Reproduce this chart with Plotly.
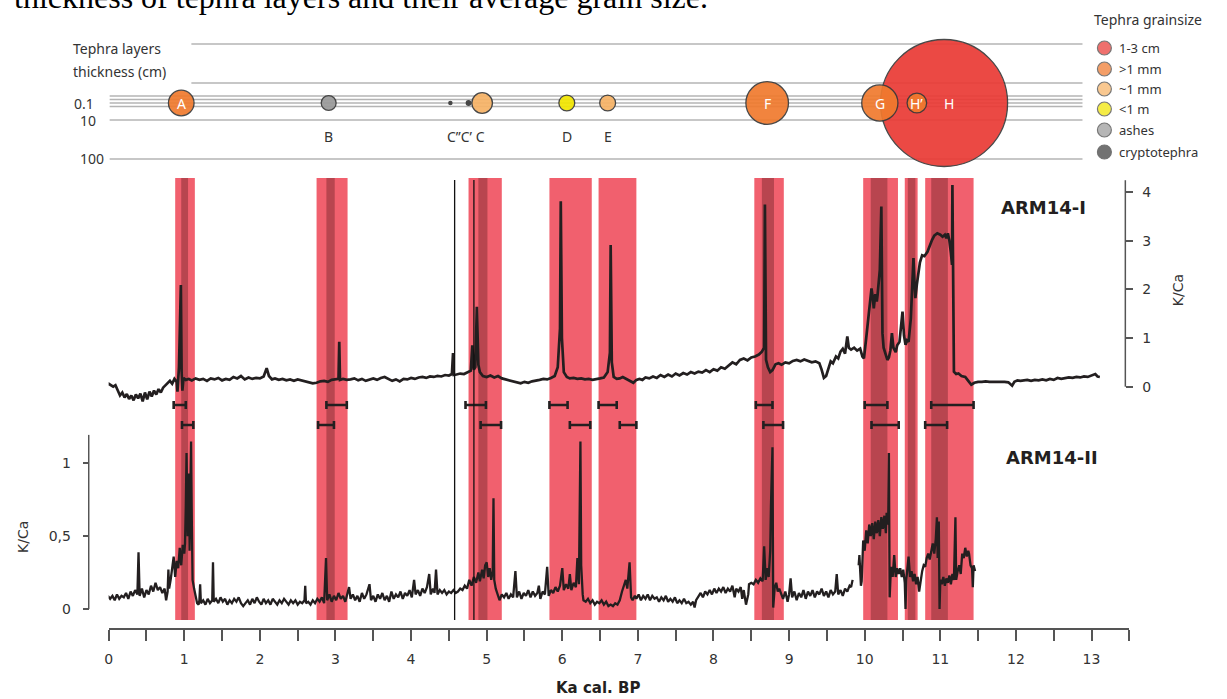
import plotly.graph_objects as go
import numpy as np

W, H = 1227, 699
def px(x): return x / W
def py(y): return 1 - y / H

# ------------------------------------------------------------------ data
# Tephra layers (bubble row)
tephra_names = ["A", "B", "C’’", "C’", "C", "D", "E", "F", "H", "G", "H’"]
tephra_age = [0.96, 2.91, 4.52, 4.76, 4.94, 6.06, 6.60, 8.71, 11.05, 10.20, 10.69]
tephra_thickness_cm = [0.65, 0.22, 0.01, 0.02, 0.42, 0.25, 0.25, 1.8, 16.0, 1.3, 0.38]
tephra_grain = [">1 mm", "ashes", "cryptotephra", "cryptotephra", "~1 mm", "<1 m", "~1 mm",
                ">1 mm", "1-3 cm", ">1 mm", ">1 mm"]
label_inside = ["A", "F", "G", "H’", "H"]
label_below = ["B", "C’’C’ C", "D", "E"]
label_below_age = [2.91, 4.73, 6.06, 6.61]
label_inside_age = [0.96, 8.71, 10.20, 10.69, 11.12]

grain_classes = ["1-3 cm", ">1 mm", "~1 mm", "<1 m", "ashes", "cryptotephra"]
grain_colors = ["#ea3a35", "#f07a2e", "#f7b366", "#f2e600", "#9a9a9a", "#3c3c3c"]

thickness_levels = ["0.1", "10", "100"]

# Tephra bands (ka cal BP)
band_start = [0.88, 2.75, 4.76, 5.83, 6.48, 8.54, 9.98, 10.53, 10.80]
band_end = [1.14, 3.16, 5.20, 6.39, 6.98, 8.93, 10.44, 10.70, 11.44]
core_start = [0.96, 2.88, 4.89, 8.64, 10.08, 10.57, 10.88]
core_end = [1.05, 2.99, 5.01, 8.80, 10.30, 10.67, 11.10]
marker_line_age = [4.576, 4.831]

# Age uncertainty ranges
err_I_lo = [0.86, 2.88, 4.72, 5.83, 6.48, 8.56, 10.00, 10.88]
err_I_hi = [1.02, 3.15, 4.99, 6.07, 6.72, 8.78, 10.30, 11.44]
err_II_lo = [0.97, 2.77, 4.92, 6.10, 6.76, 8.66, 10.09, 10.80]
err_II_hi = [1.12, 2.98, 5.19, 6.37, 6.98, 8.92, 10.45, 11.09]

# ARM14-I K/Ca
arm1 = [(-0.06, 0.05), (-0.03, 0.02), (0.00, 0.06), (0.03, 0.03), (0.06, 0.00), (0.09, 0.03),
        (0.12, -0.08), (0.15, -0.18), (0.18, -0.12), (0.21, -0.22), (0.24, -0.15), (0.27, -0.25),
        (0.30, -0.18), (0.33, -0.28), (0.36, -0.16), (0.39, -0.24), (0.42, -0.14), (0.45, -0.30),
        (0.48, -0.12), (0.51, -0.26), (0.54, -0.10), (0.57, -0.20), (0.60, -0.08), (0.63, -0.16),
        (0.66, -0.05), (0.69, -0.12), (0.72, -0.02), (0.75, 0.02), (0.78, 0.08), (0.81, 0.12),
        (0.84, 0.06), (0.87, 0.16), (0.90, 0.10), (0.91, -0.10), (0.93, 0.40), (0.955, 2.09),
        (0.965, 0.30), (0.975, -0.08), (0.99, 0.18), (1.02, 0.14), (1.06, 0.16), (1.10, 0.13),
        (1.15, 0.17), (1.20, 0.14), (1.25, 0.16), (1.30, 0.12), (1.35, 0.17), (1.40, 0.15),
        (1.45, 0.18), (1.50, 0.13), (1.55, 0.16), (1.60, 0.14), (1.65, 0.20), (1.70, 0.17),
        (1.75, 0.22), (1.80, 0.15), (1.85, 0.19), (1.90, 0.16), (1.95, 0.18), (2.00, 0.17),
        (2.05, 0.21), (2.09, 0.38), (2.12, 0.22), (2.16, 0.15), (2.20, 0.17), (2.25, 0.14),
        (2.30, 0.16), (2.35, 0.13), (2.40, 0.15), (2.45, 0.12), (2.50, 0.15), (2.55, 0.13),
        (2.60, 0.11), (2.65, 0.09), (2.70, 0.07), (2.75, 0.08), (2.80, 0.11), (2.85, 0.12),
        (2.90, 0.10), (2.95, 0.14), (3.00, 0.15), (3.04, 0.16), (3.05, 0.92), (3.06, 0.14),
        (3.10, 0.16), (3.15, 0.14), (3.20, 0.15), (3.25, 0.17), (3.30, 0.13), (3.35, 0.16),
        (3.40, 0.12), (3.45, 0.15), (3.50, 0.17), (3.55, 0.14), (3.60, 0.18), (3.65, 0.20),
        (3.70, 0.16), (3.75, 0.12), (3.80, 0.15), (3.85, 0.11), (3.90, 0.16), (3.95, 0.15),
        (4.00, 0.18), (4.05, 0.16), (4.10, 0.19), (4.15, 0.20), (4.20, 0.18), (4.25, 0.21),
        (4.30, 0.20), (4.35, 0.22), (4.40, 0.21), (4.45, 0.24), (4.50, 0.23), (4.54, 0.26),
        (4.555, 0.69), (4.565, 0.24), (4.60, 0.25), (4.65, 0.27), (4.70, 0.26), (4.75, 0.30),
        (4.79, 0.33), (4.81, 0.85), (4.83, 0.35), (4.85, 0.40), (4.87, 1.64), (4.89, 0.45),
        (4.91, 0.30), (4.95, 0.22), (5.00, 0.20), (5.05, 0.23), (5.10, 0.19), (5.15, 0.22),
        (5.20, 0.17), (5.25, 0.15), (5.30, 0.13), (5.35, 0.12), (5.40, 0.09), (5.45, 0.07),
        (5.50, 0.10), (5.55, 0.08), (5.60, 0.11), (5.65, 0.12), (5.70, 0.14), (5.75, 0.16),
        (5.80, 0.15), (5.85, 0.18), (5.90, 0.22), (5.94, 0.40), (5.97, 1.20), (5.98, 3.81),
        (5.995, 1.00), (6.02, 0.30), (6.06, 0.20), (6.10, 0.17), (6.15, 0.18), (6.20, 0.16),
        (6.25, 0.17), (6.30, 0.15), (6.35, 0.16), (6.40, 0.14), (6.45, 0.15), (6.50, 0.17),
        (6.55, 0.19), (6.60, 0.30), (6.63, 0.70), (6.64, 2.91), (6.655, 0.50), (6.68, 0.20),
        (6.72, 0.16), (6.76, 0.17), (6.80, 0.20), (6.85, 0.16), (6.90, 0.12), (6.94, 0.08),
        (6.98, 0.14), (7.02, 0.16), (7.06, 0.14), (7.10, 0.19), (7.15, 0.17), (7.20, 0.21),
        (7.25, 0.18), (7.30, 0.24), (7.35, 0.20), (7.40, 0.25), (7.45, 0.21), (7.50, 0.27),
        (7.55, 0.23), (7.60, 0.28), (7.65, 0.25), (7.70, 0.30), (7.75, 0.27), (7.80, 0.31),
        (7.85, 0.29), (7.90, 0.34), (7.95, 0.30), (8.00, 0.36), (8.05, 0.33), (8.10, 0.40),
        (8.15, 0.37), (8.20, 0.44), (8.25, 0.50), (8.30, 0.46), (8.35, 0.55), (8.40, 0.58),
        (8.45, 0.54), (8.50, 0.60), (8.55, 0.62), (8.60, 0.66), (8.64, 0.72), (8.67, 0.80),
        (8.68, 3.74), (8.695, 0.55), (8.72, 0.40), (8.75, 0.30), (8.78, 0.34), (8.82, 0.46),
        (8.86, 0.48), (8.90, 0.45), (8.95, 0.50), (9.00, 0.48), (9.05, 0.53), (9.10, 0.55),
        (9.15, 0.52), (9.20, 0.56), (9.25, 0.53), (9.30, 0.50), (9.35, 0.52), (9.40, 0.48),
        (9.43, 0.35), (9.46, 0.18), (9.49, 0.22), (9.52, 0.40), (9.55, 0.52), (9.58, 0.48),
        (9.62, 0.62), (9.65, 0.58), (9.68, 0.72), (9.71, 0.78), (9.74, 0.68), (9.77, 1.03),
        (9.79, 0.80), (9.82, 0.76), (9.86, 0.80), (9.90, 0.74), (9.94, 0.78), (9.97, 0.62),
        (9.99, 0.58), (10.02, 1.00), (10.04, 1.27), (10.07, 1.70), (10.09, 2.02), (10.11, 1.78),
        (10.12, 1.61), (10.14, 1.90), (10.16, 1.75), (10.17, 1.88), (10.20, 2.40), (10.22, 3.70),
        (10.235, 1.10), (10.25, 0.80), (10.28, 0.62), (10.30, 0.55), (10.32, 0.60), (10.34, 0.75),
        (10.36, 1.10), (10.38, 0.80), (10.41, 0.71), (10.43, 0.85), (10.46, 0.92), (10.48, 1.30),
        (10.50, 1.54), (10.52, 1.05), (10.54, 0.86), (10.56, 0.95), (10.58, 0.92), (10.61, 1.40),
        (10.63, 2.00), (10.645, 2.64), (10.66, 2.10), (10.67, 1.82), (10.69, 2.10), (10.71, 2.29),
        (10.73, 2.55), (10.76, 2.70), (10.79, 2.68), (10.83, 2.77), (10.86, 2.90), (10.89, 3.01),
        (10.92, 3.10), (10.96, 3.15), (11.00, 3.12), (11.03, 3.08), (11.06, 3.12), (11.08, 3.05),
        (11.10, 3.15), (11.12, 3.00), (11.14, 2.75), (11.155, 2.50), (11.16, 4.14), (11.17, 1.80),
        (11.18, 0.31), (11.21, 0.26), (11.24, 0.27), (11.28, 0.22), (11.33, 0.20), (11.37, 0.12),
        (11.41, 0.04), (11.45, 0.08), (11.50, 0.10), (11.55, 0.10), (11.60, 0.11), (11.65, 0.10),
        (11.70, 0.10), (11.75, 0.11), (11.80, 0.10), (11.85, 0.10), (11.90, 0.09), (11.95, 0.02),
        (11.98, 0.10), (12.02, 0.13), (12.06, 0.12), (12.10, 0.13), (12.15, 0.14), (12.20, 0.12),
        (12.25, 0.14), (12.30, 0.13), (12.35, 0.15), (12.40, 0.13), (12.45, 0.16), (12.50, 0.14),
        (12.55, 0.18), (12.60, 0.16), (12.65, 0.18), (12.70, 0.19), (12.75, 0.18), (12.80, 0.20),
        (12.85, 0.19), (12.90, 0.21), (12.95, 0.20), (13.00, 0.23), (13.05, 0.26), (13.08, 0.21),
        (13.11, 0.20)]

# ARM14-II K/Ca (None = data gap)
arm2 = [(-0.06, 0.02), (-0.05, 0.00), (-0.03, 0.06), (-0.01, 0.09), (0.02, 0.07), (0.05, 0.09),
        (0.08, 0.06), (0.11, 0.10), (0.14, 0.07), (0.17, 0.09), (0.20, 0.08), (0.23, 0.11),
        (0.26, 0.07), (0.29, 0.12), (0.32, 0.09), (0.35, 0.13), (0.38, 0.10), (0.395, 0.39),
        (0.41, 0.09), (0.44, 0.14), (0.47, 0.08), (0.50, 0.13), (0.53, 0.10), (0.56, 0.16),
        (0.59, 0.12), (0.62, 0.18), (0.65, 0.13), (0.68, 0.15), (0.71, 0.11), (0.74, 0.14),
        (0.76, 0.06), (0.78, 0.12), (0.79, 0.27), (0.80, 0.14), (0.82, 0.20), (0.84, 0.30),
        (0.86, 0.36), (0.88, 0.22), (0.90, 0.33), (0.92, 0.28), (0.94, 0.42), (0.96, 0.30),
        (0.98, 0.44), (1.00, 0.38), (1.01, 0.45), (1.02, 0.70), (1.03, 1.07), (1.045, 0.50),
        (1.06, 0.93), (1.07, 0.40), (1.08, 1.00), (1.09, 1.15), (1.10, 0.60), (1.11, 0.20),
        (1.13, 0.14), (1.15, 0.09), (1.17, 0.04), (1.19, 0.03), (1.20, 0.06), (1.21, 0.17),
        (1.22, 0.04), (1.25, 0.06), (1.28, 0.03), (1.31, 0.07), (1.34, 0.04), (1.37, 0.06),
        (1.38, 0.32), (1.39, 0.05), (1.42, 0.07), (1.45, 0.04), (1.48, 0.08), (1.51, 0.05),
        (1.54, 0.07), (1.57, 0.03), (1.60, 0.06), (1.63, 0.04), (1.66, 0.07), (1.69, 0.05),
        (1.72, 0.08), (1.75, 0.04), (1.78, 0.02), (1.81, 0.04), (1.84, 0.06), (1.87, 0.03),
        (1.90, 0.07), (1.93, 0.04), (1.96, 0.08), (1.99, 0.05), (2.02, 0.03), (2.05, 0.07),
        (2.08, 0.04), (2.11, 0.06), (2.14, 0.03), (2.17, 0.07), (2.20, 0.05), (2.23, 0.03),
        (2.26, 0.06), (2.29, 0.04), (2.32, 0.07), (2.35, 0.05), (2.38, 0.03), (2.41, 0.06),
        (2.44, 0.04), (2.47, 0.06), (2.50, 0.03), (2.53, 0.05), (2.56, 0.04), (2.59, 0.06),
        (2.60, 0.16), (2.61, 0.04), (2.64, 0.05), (2.67, 0.03), (2.70, 0.06), (2.73, 0.04),
        (2.76, 0.07), (2.79, 0.05), (2.82, 0.08), (2.85, 0.04), (2.875, 0.35), (2.89, 0.06),
        (2.92, 0.10), (2.95, 0.05), (2.98, 0.09), (3.01, 0.06), (3.04, 0.11), (3.07, 0.07),
        (3.10, 0.09), (3.13, 0.05), (3.16, 0.10), (3.18, 0.15), (3.20, 0.07), (3.23, 0.10),
        (3.26, 0.06), (3.29, 0.09), (3.32, 0.05), (3.35, 0.11), (3.38, 0.07), (3.41, 0.10),
        (3.45, 0.17), (3.47, 0.06), (3.50, 0.09), (3.53, 0.05), (3.56, 0.10), (3.59, 0.07),
        (3.62, 0.11), (3.65, 0.06), (3.68, 0.09), (3.71, 0.05), (3.74, 0.12), (3.77, 0.07),
        (3.80, 0.10), (3.83, 0.08), (3.86, 0.12), (3.89, 0.07), (3.92, 0.11), (3.95, 0.09),
        (3.98, 0.13), (4.01, 0.08), (4.04, 0.20), (4.06, 0.10), (4.09, 0.13), (4.12, 0.09),
        (4.15, 0.14), (4.18, 0.11), (4.21, 0.15), (4.24, 0.24), (4.26, 0.10), (4.29, 0.14),
        (4.31, 0.11), (4.33, 0.27), (4.35, 0.10), (4.38, 0.13), (4.41, 0.11), (4.44, 0.13),
        (4.47, 0.10), (4.50, 0.12), (4.53, 0.11), (4.56, 0.13), (4.59, 0.11), (4.62, 0.12),
        (4.65, 0.14), (4.68, 0.13), (4.71, 0.16), (4.74, 0.14), (4.77, 0.20), (4.80, 0.16),
        (4.83, 0.22), (4.86, 0.18), (4.89, 0.25), (4.91, 0.19), (4.94, 0.27), (4.96, 0.21),
        (4.98, 0.30), (5.00, 0.32), (5.02, 0.22), (5.04, 0.28), (5.06, 0.20), (5.08, 0.26),
        (5.09, 0.76), (5.10, 0.20), (5.12, 0.14), (5.15, 0.10), (5.17, 0.06), (5.20, 0.10),
        (5.23, 0.08), (5.26, 0.11), (5.29, 0.07), (5.32, 0.10), (5.35, 0.08), (5.38, 0.26),
        (5.40, 0.08), (5.43, 0.12), (5.46, 0.07), (5.49, 0.11), (5.52, 0.09), (5.55, 0.13),
        (5.58, 0.08), (5.61, 0.12), (5.64, 0.09), (5.67, 0.11), (5.69, 0.16), (5.71, 0.07),
        (5.74, 0.12), (5.77, 0.10), (5.80, 0.29), (5.82, 0.09), (5.85, 0.13), (5.88, 0.11),
        (5.91, 0.15), (5.94, 0.12), (5.97, 0.16), (6.00, 0.28), (6.02, 0.13), (6.05, 0.17),
        (6.08, 0.14), (6.10, 0.24), (6.12, 0.13), (6.15, 0.18), (6.18, 0.15), (6.20, 0.35),
        (6.22, 0.17), (6.24, 1.15), (6.25, 0.30), (6.27, 0.10), (6.28, 0.06), (6.31, 0.05),
        (6.34, 0.07), (6.37, 0.04), (6.40, 0.06), (6.43, 0.03), (6.46, 0.05), (6.49, 0.04),
        (6.52, 0.06), (6.55, 0.03), (6.58, 0.05), (6.61, 0.02), (6.64, 0.03), (6.67, 0.02),
        (6.70, 0.04), (6.73, 0.03), (6.76, 0.06), (6.79, 0.12), (6.82, 0.18), (6.84, 0.20),
        (6.86, 0.14), (6.89, 0.32), (6.91, 0.08), (6.93, 0.06), (6.96, 0.09), (6.98, 0.07),
        (7.01, 0.10), (7.04, 0.06), (7.07, 0.09), (7.10, 0.07), (7.13, 0.10), (7.16, 0.06),
        (7.19, 0.09), (7.22, 0.07), (7.25, 0.08), (7.28, 0.05), (7.31, 0.08), (7.34, 0.06),
        (7.37, 0.09), (7.40, 0.05), (7.43, 0.07), (7.46, 0.05), (7.49, 0.08), (7.52, 0.04),
        (7.55, 0.06), (7.58, 0.04), (7.61, 0.07), (7.64, 0.04), (7.67, 0.05), (7.70, 0.03),
        (7.73, 0.05), (7.75, 0.01), (7.77, 0.06), (7.80, 0.09), (7.83, 0.11), (7.86, 0.08),
        (7.89, 0.12), (7.92, 0.10), (7.95, 0.13), (7.98, 0.10), (8.01, 0.14), (8.04, 0.11),
        (8.07, 0.14), (8.10, 0.12), (8.13, 0.15), (8.16, 0.11), (8.19, 0.14), (8.22, 0.12),
        (8.25, 0.16), (8.28, 0.08), (8.30, 0.14), (8.33, 0.12), (8.36, 0.15), (8.38, 0.07),
        (8.40, 0.13), (8.43, 0.03), (8.46, 0.10), (8.47, 0.17), (8.50, 0.18), (8.53, 0.17),
        (8.56, 0.20), (8.59, 0.18), (8.62, 0.21), (8.65, 0.19), (8.67, 0.43), (8.69, 0.20),
        (8.71, 0.28), (8.73, 0.22), (8.75, 0.40), (8.76, 0.71), (8.78, 1.11), (8.79, 0.01),
        (8.81, 0.15), (8.83, 0.18), (8.85, 0.12), (8.87, 0.14), (8.89, 0.11), (8.92, 0.07),
        (8.95, 0.12), (8.98, 0.05), (9.00, 0.10), (9.02, 0.21), (9.04, 0.08), (9.07, 0.12),
        (9.10, 0.06), (9.13, 0.11), (9.16, 0.08), (9.19, 0.13), (9.22, 0.07), (9.25, 0.12),
        (9.28, 0.09), (9.31, 0.13), (9.34, 0.08), (9.37, 0.12), (9.40, 0.10), (9.43, 0.14),
        (9.46, 0.09), (9.49, 0.12), (9.52, 0.08), (9.55, 0.13), (9.58, 0.10), (9.61, 0.12),
        (9.63, 0.24), (9.65, 0.10), (9.68, 0.13), (9.71, 0.09), (9.74, 0.14), (9.77, 0.12),
        (9.80, 0.16), (9.82, 0.15), (9.84, 0.20), (9.88, None),
        (9.92, 0.30), (9.93, 0.37), (9.95, 0.16), (9.96, 0.19), (9.98, 0.47), (10.00, 0.40),
        (10.02, 0.54), (10.04, 0.45), (10.06, 0.58), (10.08, 0.50), (10.10, 0.59), (10.12, 0.48),
        (10.14, 0.60), (10.16, 0.52), (10.18, 0.61), (10.20, 0.50), (10.22, 0.63), (10.24, 0.55),
        (10.26, 0.64), (10.28, 0.52), (10.29, 0.66), (10.31, 0.58), (10.32, 1.07), (10.33, 0.08),
        (10.34, 0.20), (10.35, 0.29), (10.37, 0.22), (10.39, 0.37), (10.41, 0.22), (10.43, 0.28),
        (10.45, 0.24), (10.47, 0.28), (10.49, 0.22), (10.51, 0.27), (10.53, 0.18), (10.54, 0.00),
        (10.55, 0.20), (10.57, 0.30), (10.58, 0.36), (10.60, 0.22), (10.62, 0.26), (10.64, 0.19),
        (10.66, 0.24), (10.68, 0.17), (10.70, 0.22), (10.72, 0.12), (10.74, 0.20), (10.76, 0.26),
        (10.78, 0.30), (10.80, 0.29), (10.82, 0.35), (10.84, 0.38), (10.86, 0.34), (10.88, 0.40),
        (10.90, 0.45), (10.92, 0.38), (10.94, 0.48), (10.955, 0.63), (10.965, 0.35), (10.98, 0.60),
        (10.99, 0.00), (11.00, 0.20), (11.02, 0.17), (11.04, 0.22), (11.06, 0.16), (11.08, 0.21),
        (11.10, 0.18), (11.12, 0.23), (11.14, 0.17), (11.16, 0.24), (11.18, 0.20), (11.20, 0.63),
        (11.21, 0.20), (11.23, 0.26), (11.25, 0.30), (11.27, 0.24), (11.29, 0.38), (11.31, 0.35),
        (11.33, 0.42), (11.35, 0.36), (11.37, 0.40), (11.38, 0.38), (11.40, 0.30), (11.42, 0.28),
        (11.43, 0.15), (11.44, 0.30), (11.46, 0.26)]

arm1_age, arm1_kca = [p[0] for p in arm1], [p[1] for p in arm1]
arm2_age, arm2_kca = [p[0] for p in arm2], [p[1] for p in arm2]

x_ticks = list(range(0, 14))
top_ticks = [0, 1, 2, 3, 4]
bot_ticks = [0, 0.5, 1]
bot_ticktext = ["0", "0,5", "1"]

# ------------------------------------------------------------------ layout constants
INK = "#231f20"
AX = "#555555"
TXT = "#333333"
MYR = "Noto Sans"
CAL = "DejaVu Sans"

# top K/Ca panel: value 0 at px 386.7, 48.7 px per unit
t0, tk = 386.7, 48.7
# bottom K/Ca panel: value 0 at px 609, 145.7 px per unit
b0, bk = 609.0, 145.7

fig = go.Figure()

shapes = []
for s, e in zip(band_start, band_end):
    shapes.append(dict(type="rect", xref="x", yref="paper", x0=s, x1=e, y0=py(620), y1=py(178),
                       fillcolor="#f1606e", line_width=0, layer="below"))
for s, e in zip(core_start, core_end):
    shapes.append(dict(type="rect", xref="x", yref="paper", x0=s, x1=e, y0=py(620), y1=py(178),
                       fillcolor="#b8454f", line_width=0, layer="below"))
for a in marker_line_age:
    shapes.append(dict(type="line", xref="x", yref="paper", x0=a, x1=a, y0=py(620), y1=py(180),
                       line=dict(color="#111111", width=1.3), layer="above"))

# axis lines of the K/Ca panels
shapes.append(dict(type="line", xref="paper", yref="y", x0=px(1125), x1=px(1125), y0=0, y1=4.24,
                   line=dict(color=AX, width=1.5)))
shapes.append(dict(type="line", xref="paper", yref="y2", x0=px(85), x1=px(85), y0=0, y1=1.195,
                   line=dict(color=AX, width=1.5)))

# thickness grid lines of the tephra row
grid_y = [44, 83, 96, 99.5, 103, 106.5, 120, 159]
grid_x0 = [188, 188, 106, 106, 106, 106, 106, 106]
for gy, gx in zip(grid_y, grid_x0):
    shapes.append(dict(type="line", xref="paper", yref="paper", x0=px(gx), x1=px(1082),
                       y0=py(gy), y1=py(gy), line=dict(color="#b4b4b4", width=1.6), layer="below"))

# legend circles
leg_y = [48, 69, 89, 109, 130, 152]
for cls, ly in zip(grain_classes, leg_y):
    col = grain_colors[grain_classes.index(cls)]
    shapes.append(dict(type="circle", xref="paper", yref="paper", x0=px(1097), x1=px(1111),
                       y0=py(ly + 7), y1=py(ly - 7), fillcolor=col, opacity=0.72,
                       line=dict(color="#444444" if cls != "cryptotephra" else col, width=1.2)))

# ------------------------------------------------------------------ traces
fig.add_trace(go.Scatter(x=arm1_age, y=arm1_kca, mode="lines", xaxis="x", yaxis="y",
                         line=dict(color=INK, width=2.7), hoverinfo="skip"))
fig.add_trace(go.Scatter(x=arm2_age, y=arm2_kca, mode="lines", xaxis="x", yaxis="y2",
                         line=dict(color=INK, width=2.3), connectgaps=False, hoverinfo="skip"))

for row, lo, hi in [(1, err_I_lo, err_I_hi), (0, err_II_lo, err_II_hi)]:
    mid = [(a + b) / 2 for a, b in zip(lo, hi)]
    half = [(b - a) / 2 for a, b in zip(lo, hi)]
    fig.add_trace(go.Scatter(x=mid, y=[row] * len(mid), mode="markers", xaxis="x", yaxis="y4",
                             marker=dict(size=1, color=INK),
                             error_x=dict(type="data", array=half, symmetric=True, color=INK,
                                          thickness=2.6, width=4),
                             hoverinfo="skip"))

sizes = [127 * np.sqrt(t / 16.0) for t in tephra_thickness_cm]
cols = [grain_colors[grain_classes.index(g)] for g in tephra_grain]
fig.add_trace(go.Scatter(x=tephra_age, y=[0] * len(tephra_age), mode="markers", xaxis="x", yaxis="y3",
                         marker=dict(size=sizes, color=cols, opacity=0.92,
                                     line=dict(color="#3a3a3a", width=1.3)),
                         cliponaxis=False, hoverinfo="skip"))

# ------------------------------------------------------------------ annotations
ann = []
def text(t, x, y, size=14, color=TXT, family=MYR, xanchor="left", yanchor="middle",
         xref="paper", yref="paper", angle=0):
    ann.append(dict(text=t, x=x, y=y, xref=xref, yref=yref, showarrow=False,
                    xanchor=xanchor, yanchor=yanchor, textangle=angle,
                    font=dict(size=size, color=color, family=family)))

text("thickness of tephra layers and their average grain size.", px(8), py(-3), size=32,
     color="#000000", family="Liberation Serif")
text("Tephra layers", px(67), py(48))
text("thickness (cm)", px(67), py(72))
text(thickness_levels[0], px(68), py(103))
text(thickness_levels[1], px(74), py(121))
text(thickness_levels[2], px(74), py(159))

for t, a in zip(label_inside, label_inside_age):
    text(t, a, 0, size=14, color="#ffffff", xanchor="center", xref="x", yref="y3")
for t, a in zip(label_below, label_below_age):
    text(t, a, 33, size=14, color=TXT, xanchor="center", xref="x", yref="y3")

text("Tephra grainsize", px(1092), py(20))
for cls, ly in zip(grain_classes, leg_y):
    text(cls, px(1117), py(ly), size=13)

text("<b>ARM14-I</b>", px(998), py(207), size=18, color=INK, family=CAL)
text("<b>ARM14-II</b>", px(1003), py(457), size=18, color=INK, family=CAL)
text("K/Ca", px(1178), py(290), size=14, family=CAL, xanchor="center", angle=-90)
text("K/Ca", px(19), py(537), size=14, family=CAL, xanchor="center", angle=-90)
text("<b>Ka cal. BP</b>", px(596), py(688), size=15, color=INK, family=CAL, xanchor="center")

# ------------------------------------------------------------------ layout
tickfont = dict(family=CAL, size=14, color=TXT)
fig.update_layout(
    width=W, height=H, margin=dict(l=0, r=0, t=0, b=0),
    paper_bgcolor="white", plot_bgcolor="rgba(0,0,0,0)", showlegend=False,
    shapes=shapes, annotations=ann,
    xaxis=dict(domain=[px(105), px(1129)], range=[0, 13.5], anchor="free", position=py(629),
               showline=True, linecolor=AX, linewidth=1.5, ticks="outside", ticklen=11,
               tickwidth=1.5, tickcolor=AX, tickmode="array", tickvals=x_ticks,
               ticklabelstandoff=6,
               minor=dict(ticks="outside", ticklen=11, tickwidth=1.5, tickcolor=AX,
                          tickmode="linear", tick0=0, dtick=0.5, showgrid=False),
               tickfont=tickfont, showgrid=False, zeroline=False),
    yaxis=dict(domain=[py(430), py(175)], range=[(t0 - 430) / tk, (t0 - 175) / tk],
               anchor="free", position=px(1125), side="right", tickmode="array",
               tickvals=top_ticks, ticks="outside", ticklen=7, tickwidth=1.5, tickcolor=AX,
               ticklabelstandoff=6,
               showline=False, showgrid=False, zeroline=False, tickfont=tickfont),
    yaxis2=dict(domain=[py(625), py(430)], range=[(b0 - 625) / bk, (b0 - 430) / bk],
                anchor="free", position=px(85), side="left", tickmode="array",
                tickvals=bot_ticks, ticktext=bot_ticktext, ticks="outside", ticklen=6,
                ticklabelstandoff=9,
                tickwidth=1.5, tickcolor=AX, showline=False, showgrid=False, zeroline=False,
                tickfont=tickfont),
    yaxis3=dict(domain=[py(175), 1.0], range=[175 - 103, -103], visible=False),
    yaxis4=dict(domain=[py(435), py(395)], range=[-0.5, 1.5], visible=False),
)

fig.write_html("out.html")
